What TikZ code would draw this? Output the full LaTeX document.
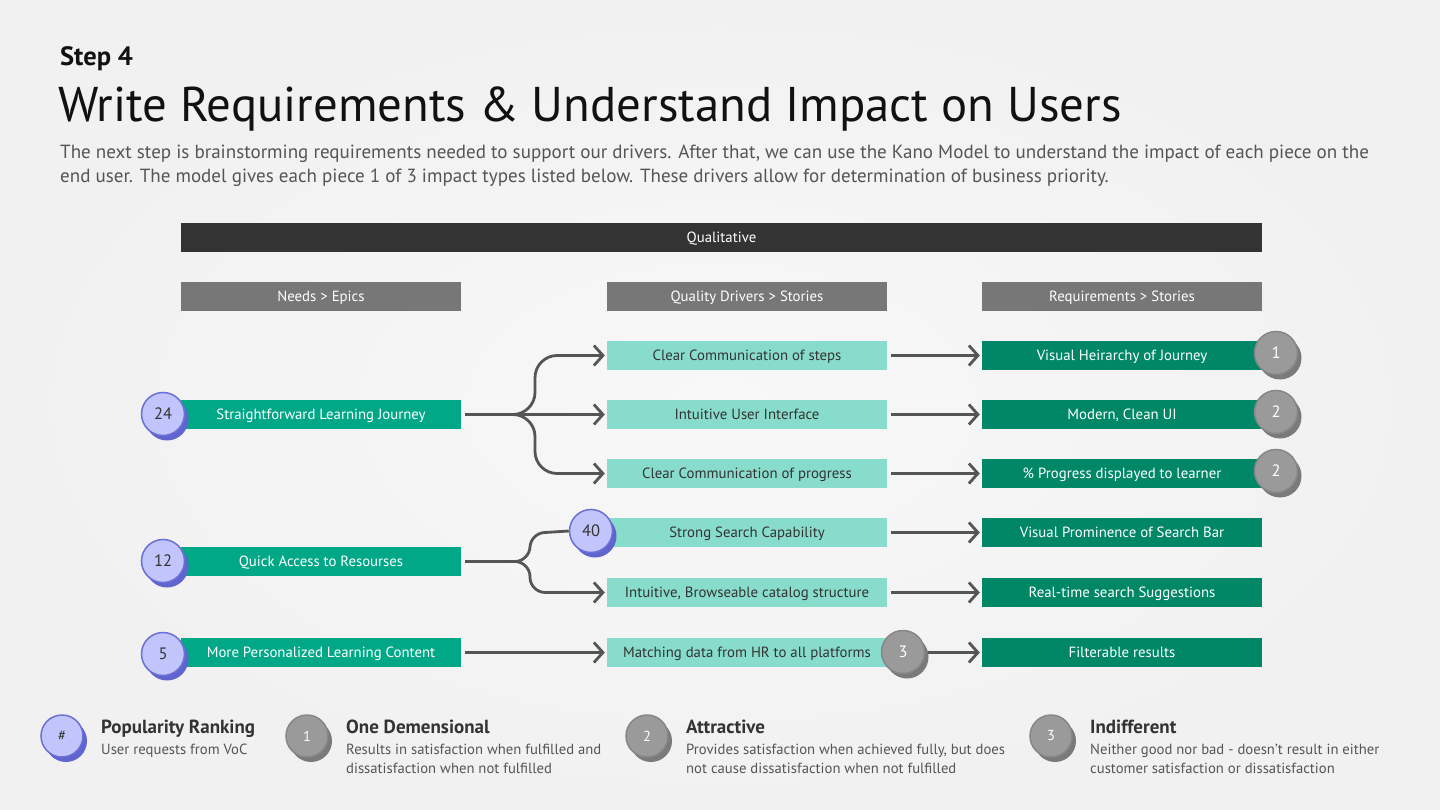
\documentclass[tikz,border=0pt]{standalone}
\usepackage{fontspec}
\setmainfont{PT Sans}
\usetikzlibrary{arrows.meta,calc,shadows}
\definecolor{bgin}{HTML}{F8F8F8}
\definecolor{bgout}{HTML}{F1F1F1}
\definecolor{ink}{HTML}{111111}
\definecolor{bodygrey}{HTML}{555555}
\definecolor{barblack}{HTML}{333333}
\definecolor{headgrey}{HTML}{777777}
\definecolor{needgreen}{HTML}{00A887}
\definecolor{drivermint}{HTML}{88DCCB}
\definecolor{reqgreen}{HTML}{008866}
\definecolor{linegrey}{HTML}{555555}
\definecolor{popfill}{HTML}{C2C5FB}
\definecolor{popedge}{HTML}{6B70D8}
\definecolor{popshade}{HTML}{5F64CF}
\definecolor{kanofill}{HTML}{9A9A9A}
\definecolor{kanoedge}{HTML}{878787}
\definecolor{kanoshade}{HTML}{7A7A7A}
\begin{document}
\begin{tikzpicture}[x=1pt,y=-1pt,
  bar/.style={minimum height=29pt,inner sep=0pt,text height=13pt,text depth=3pt,text=white,
    font=\fontsize{14.8}{17}\selectfont},
  needbox/.style={bar,fill=needgreen,minimum width=280pt},
  driverbox/.style={bar,fill=drivermint,minimum width=280pt,text=barblack},
  reqbox/.style={bar,fill=reqgreen,minimum width=280pt},
  headbox/.style={bar,fill=headgrey,minimum width=280pt},
  popbadge/.style={circle,minimum size=43pt,inner sep=0pt,fill=popfill,draw=popedge,line width=1.5pt,
    text=barblack,font=\fontsize{16.5}{18}\selectfont,
    drop shadow={shadow xshift=4pt,shadow yshift=-5pt,fill=popshade,opacity=1}},
  kanobadge/.style={circle,minimum size=43pt,inner sep=0pt,fill=kanofill,draw=kanoedge,line width=1.5pt,
    text=white,font=\fontsize{16.5}{18}\selectfont,
    drop shadow={shadow xshift=4pt,shadow yshift=-5pt,fill=kanoshade,opacity=1}},
  conn/.style={draw=linegrey,line width=2.8pt,-{Straight Barb[length=9pt,width=20pt]},shorten >=2pt,shorten <=4pt},
  plain/.style={draw=linegrey,line width=2.8pt,shorten <=4pt},
  legtitle/.style={anchor=base west,inner sep=0pt,text=barblack,font=\fontsize{19}{22}\selectfont\bfseries},
  legtext/.style={anchor=north west,inner sep=0pt,text=bodygrey,align=left,font=\fontsize{14.7}{19}\selectfont}
]
\useasboundingbox (0,0) rectangle (1440,810);
\shade[inner color=bgin,outer color=bgout] (0,0) rectangle (1440,810);

% heading block
\node[anchor=base west,inner sep=0pt,text=ink,font=\fontsize{26.5}{29}\selectfont\bfseries] (step) at (60,66) {Step 4};
\node[anchor=base west,inner sep=0pt,text=ink,font=\fontsize{48.8}{52}\selectfont] (title) at (58,122)
  {Write Requirements \& Understand Impact on Users};
\node[anchor=north west,inner sep=0pt,text=bodygrey,align=left,font=\fontsize{19.05}{24}\selectfont] (intro) at (60,145)
  {The next step is brainstorming requirements needed to support our drivers. After that, we can use the Kano Model to understand the impact of each piece on the\\
   end user. The model gives each piece 1 of 3 impact types listed below. These drivers allow for determination of business priority.};

% column headers
\node[bar,fill=barblack,minimum width=1081pt] (qual) at (721.5,237.5) {Qualitative};
\node[headbox] (h1) at (321,296.5) {Needs > Epics};
\node[headbox] (h2) at (747,296.5) {Quality Drivers > Stories};
\node[headbox] (h3) at (1122,296.5) {Requirements > Stories};

% needs
\node[needbox] (n1) at (321,414.5) {Straightforward Learning Journey};
\node[needbox] (n2) at (321,561.5) {Quick Access to Resourses};
\node[needbox] (n3) at (321,652.5) {More Personalized Learning Content};

% quality drivers
\node[driverbox] (q1) at (747,355.5) {Clear Communication of steps};
\node[driverbox] (q2) at (747,414.5) {Intuitive User Interface};
\node[driverbox] (q3) at (747,473.5) {Clear Communication of progress};
\node[driverbox] (q4) at (747,532.5) {Strong Search Capability};
\node[driverbox] (q5) at (747,592.5) {Intuitive, Browseable catalog structure};
\node[driverbox] (q6) at (747,652.5) {Matching data from HR to all platforms};

% requirements
\node[reqbox] (r1) at (1122,355.5) {Visual Heirarchy of Journey};
\node[reqbox] (r2) at (1122,414.5) {Modern, Clean UI};
\node[reqbox] (r3) at (1122,473.5) {\% Progress displayed to learner};
\node[reqbox] (r4) at (1122,532.5) {Visual Prominence of Search Bar};
\node[reqbox] (r5) at (1122,592.5) {Real-time search Suggestions};
\node[reqbox] (r6) at (1122,652.5) {Filterable results};

% badges
\node[popbadge] (p24) at (163,414) {24};
\node[popbadge] (p12) at (163,561) {12};
\node[popbadge] (p5)  at (163,654) {5};
\node[popbadge] (p40) at (591,531) {40};
\node[kanobadge] (k1) at (1276,353) {1};
\node[kanobadge] (k2) at (1276,412) {2};
\node[kanobadge] (k3) at (1276,471) {2};

% branching from the first need
\coordinate (j1) at (513,414.5);
\coordinate (v1) at (535,414.5);
\coordinate (c1) at (v1|-q1.west);
\coordinate (c3) at (v1|-q3.west);
\draw[conn] (n1.east) -- (j1) .. controls +(12,0) and +(0,12) .. ($(v1)+(0,-22)$) -- ($(c1)+(0,22)$)
  .. controls +(0,-12) and +(-12,0) .. ($(c1)+(22,0)$) -- (q1.west);
\draw[conn] (n1.east) -- (q2.west);
\draw[conn] (n1.east) -- (j1) .. controls +(12,0) and +(0,-12) .. ($(v1)+(0,22)$) -- ($(c3)+(0,-22)$)
  .. controls +(0,12) and +(-12,0) .. ($(c3)+(22,0)$) -- (q3.west);

% branching from the second need
\coordinate (j2) at (515,561.5);
\coordinate (v2) at (530,561.5);
\coordinate (c4) at (v2|-q4.west);
\coordinate (c5) at (v2|-q5.west);
\draw[plain] (n2.east) -- (j2) .. controls +(8,0) and +(0,8) .. ($(v2)+(0,-15)$) -- ($(c4)+(0,15)$)
  .. controls +(0,-8) and +(-8,0) .. ($(c4)+(15,0)$) -- (p40.west);
\draw[conn] (n2.east) -- (j2) .. controls +(8,0) and +(0,-8) .. ($(v2)+(0,15)$) -- ($(c5)+(0,-15)$)
  .. controls +(0,8) and +(-8,0) .. ($(c5)+(15,0)$) -- (q5.west);

% third need
\draw[conn] (n3.east) -- (q6.west);

% drivers to requirements
\draw[conn] (q1.east) -- (r1.west);
\draw[conn] (q2.east) -- (r2.west);
\draw[conn] (q3.east) -- (r3.west);
\draw[conn] (q4.east) -- (r4.west);
\draw[conn] (q5.east) -- (r5.west);
\draw[conn] (q6.east) -- (r6.west);
\node[kanobadge] (k4) at (903,652) {3};

% legend
\node[popbadge,minimum size=42pt,font=\fontsize{14.5}{16}\selectfont] (lp) at (62,736) {\#};
\node[legtitle] (lpt) at (101,733) {Popularity Ranking};
\node[legtext] (lpd) at (101,744) {User requests from VoC};

\node[kanobadge,minimum size=42pt,font=\fontsize{14.5}{16}\selectfont] (l1) at (307,736) {1};
\node[legtitle] (l1t) at (346,733) {One Demensional};
\node[legtext] (l1d) at (346,744) {Results in satisfaction when fulfilled and\\dissatisfaction when not fulfilled};

\node[kanobadge,minimum size=42pt,font=\fontsize{14.5}{16}\selectfont] (l2) at (647,736) {2};
\node[legtitle] (l2t) at (686,733) {Attractive};
\node[legtext] (l2d) at (686,744) {Provides satisfaction when achieved fully, but does\\not cause dissatisfaction when not fulfilled};

\node[kanobadge,minimum size=42pt,font=\fontsize{14.5}{16}\selectfont] (l3) at (1051,736) {3};
\node[legtitle] (l3t) at (1090,733) {Indifferent};
\node[legtext] (l3d) at (1090,744) {Neither good nor bad - doesn’t result in either\\customer satisfaction or dissatisfaction};
\end{tikzpicture}
\end{document}
